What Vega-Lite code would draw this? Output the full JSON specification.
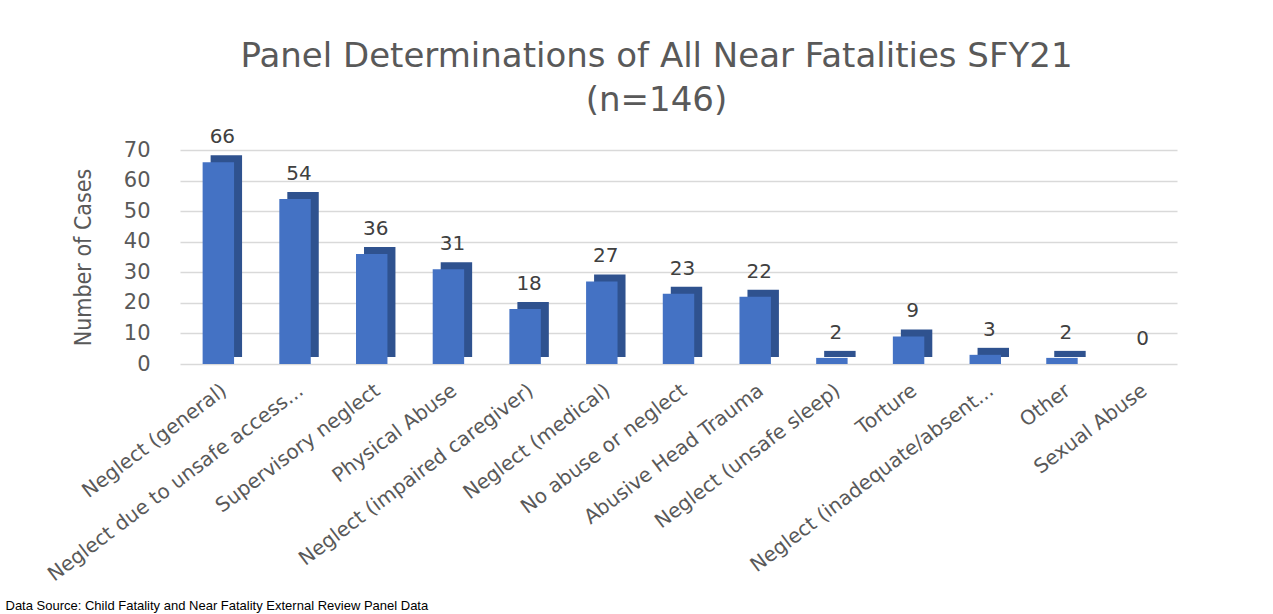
{
  "$schema": "https://vega.github.io/schema/vega-lite/v6.json",
  "autosize": "none",
  "width": 997,
  "height": 214,
  "padding": {"left": 180, "top": 150, "right": 96, "bottom": 250},
  "background": "white",
  "title": {
    "text": ["Panel Determinations of All Near Fatalities SFY21", "(n=146)"],
    "font": "DejaVu Sans",
    "fontSize": 34,
    "fontWeight": "normal",
    "color": "#595959",
    "anchor": "middle",
    "dx": -22,
    "offset": 9,
    "lineHeight": 44
  },
  "data": {
    "values": [
      {"category": "Neglect (general)", "cases": 66},
      {"category": "Neglect due to unsafe access...", "cases": 54},
      {"category": "Supervisory neglect", "cases": 36},
      {"category": "Physical Abuse", "cases": 31},
      {"category": "Neglect (impaired caregiver)", "cases": 18},
      {"category": "Neglect (medical)", "cases": 27},
      {"category": "No abuse or neglect", "cases": 23},
      {"category": "Abusive Head Trauma", "cases": 22},
      {"category": "Neglect (unsafe sleep)", "cases": 2},
      {"category": "Torture", "cases": 9},
      {"category": "Neglect (inadequate/absent...", "cases": 3},
      {"category": "Other", "cases": 2},
      {"category": "Sexual Abuse", "cases": 0}
    ]
  },
  "encoding": {
    "x": {
      "field": "category",
      "type": "nominal",
      "sort": null,
      "scale": {"paddingInner": 0, "paddingOuter": 0},
      "axis": {
        "labelAngle": -37,
        "labelFont": "DejaVu Sans",
        "labelFontSize": 20,
        "labelColor": "#595959",
        "labelPadding": 16,
        "labelLimit": 400,
        "domain": false,
        "ticks": false,
        "title": "Data Source: Child Fatality and Near Fatality External Review Panel Data",
        "titleFont": "Liberation Sans",
        "titleFontSize": 13,
        "titleFontWeight": "normal",
        "titleColor": "#000000",
        "titleX": -175,
        "titleY": 245,
        "titleAlign": "left",
        "titleAnchor": "start",
        "titleBaseline": "alphabetic"
      }
    },
    "y": {
      "field": "cases",
      "type": "quantitative",
      "scale": {"domain": [0, 70], "nice": false},
      "axis": {
        "values": [0, 10, 20, 30, 40, 50, 60, 70],
        "labelFont": "DejaVu Sans",
        "labelFontSize": 21,
        "labelColor": "#595959",
        "labelPadding": 30,
        "domain": false,
        "ticks": false,
        "gridColor": "#d9d9d9",
        "gridWidth": 1.5,
        "title": "Number of Cases",
        "titleFont": "DejaVu Sans Condensed",
        "titleFontSize": 23,
        "titleFontWeight": "normal",
        "titleColor": "#595959",
        "titlePadding": 28
      }
    }
  },
  "layer": [
    {
      "mark": {"type": "bar", "color": "#2F528F", "width": {"band": 0.41}, "xOffset": 8, "yOffset": -7, "y2Offset": -7}
    },
    {
      "mark": {"type": "bar", "color": "#4472C4", "width": {"band": 0.41}}
    },
    {
      "mark": {"type": "text", "font": "DejaVu Sans", "fontSize": 20, "color": "#404040", "dy": -15, "xOffset": 4, "baseline": "bottom"},
      "encoding": {"text": {"field": "cases", "type": "quantitative"}}
    }
  ],
  "config": {"view": {"stroke": null}}
}
